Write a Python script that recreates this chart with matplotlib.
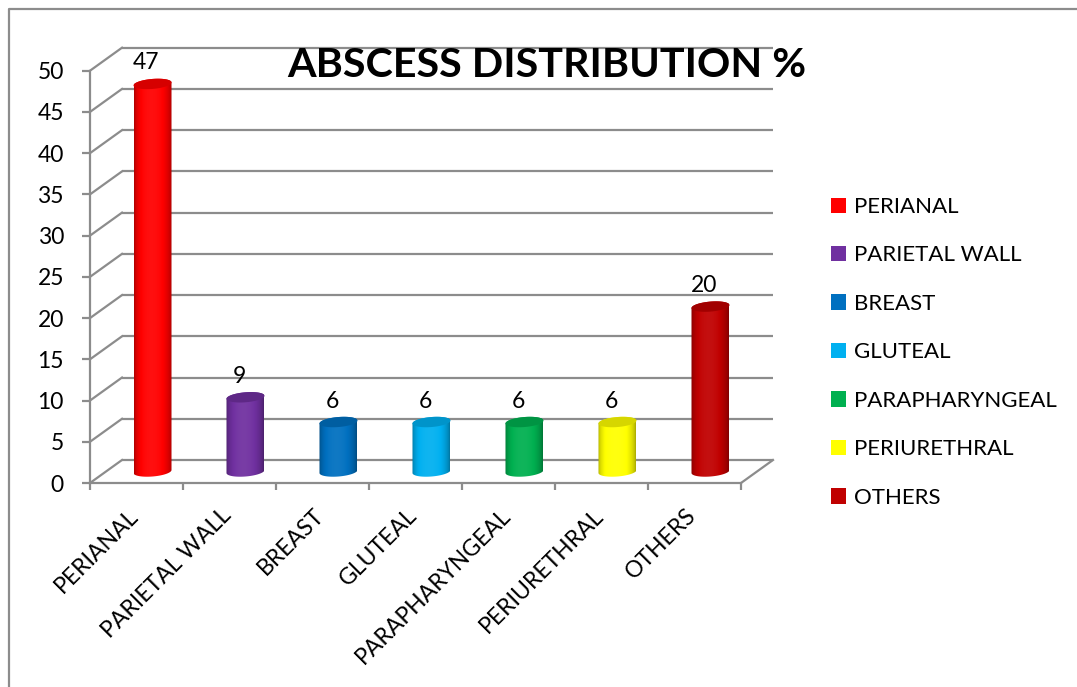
import numpy as np
import matplotlib
matplotlib.use("Agg")
import matplotlib.pyplot as plt
from matplotlib.patches import Polygon, Patch
from matplotlib.lines import Line2D
from matplotlib.colors import to_rgb

# ---- data -------------------------------------------------------------
categories = ["PERIANAL", "PARIETAL WALL", "BREAST", "GLUTEAL",
              "PARAPHARYNGEAL", "PERIURETHRAL", "OTHERS"]
values = [47, 9, 6, 6, 6, 6, 20]
colors = ["#FF0000", "#7030A0", "#0070C0", "#00B0F0",
          "#00B050", "#FFFF00", "#C00000"]
y_ticks = list(range(0, 51, 5))
title = "ABSCESS DISTRIBUTION %"

# ---- layout -----------------------------------------------------------
W, H, DPI = 1077, 687, 100
PT = 72.0 / DPI                      # points per pixel
FONT = "Lato"
GRID = "#8c8c8c"

fig = plt.figure(figsize=(W / DPI, H / DPI), dpi=DPI)
fig.patch.set_facecolor("white")

# front plane of the 3-D box in pixels
x0_px, x1_px = 90, 741
y0_px, y1_px = 483, 70.7
ax = fig.add_axes([x0_px / W, 1 - y0_px / H,
                   (x1_px - x0_px) / W, (y0_px - y1_px) / H])
n = len(categories)
ax.set_xlim(0, n)
ax.set_ylim(0, 50)
ax.patch.set_alpha(0)

px_x = (x1_px - x0_px) / n           # pixels per category
px_y = (y0_px - y1_px) / 50.0        # pixels per unit
DX = 32 / px_x                       # depth offset (data units)
DY = 23 / px_y

# back wall grid lines and left side wall diagonals
for v in y_ticks:
    ax.plot([DX, n + DX], [v + DY, v + DY], color=GRID, lw=1.6,
            clip_on=False, zorder=1, solid_capstyle="butt")
    ax.plot([0, DX], [v, v + DY], color=GRID, lw=1.6,
            clip_on=False, zorder=1)
# right floor edge
ax.plot([n, n + DX], [0, DY], color=GRID, lw=1.6, clip_on=False, zorder=1)

# axes spines / ticks
for s in ("top", "right"):
    ax.spines[s].set_visible(False)
for s in ("left", "bottom"):
    ax.spines[s].set_color(GRID)
    ax.spines[s].set_linewidth(1.6)
ax.set_yticks(y_ticks)
ax.set_yticklabels([str(t) for t in y_ticks], fontsize=16.5, family=FONT)
ax.tick_params(axis="y", direction="out", length=8 * PT, width=1.6,
               color=GRID, pad=13)
ax.set_xticks(np.arange(n + 1))
ax.set_xticklabels([])
ax.tick_params(axis="x", direction="out", length=7 * PT, width=1.6,
               color=GRID)

# category labels
for i, lab in enumerate(categories):
    ax.annotate(lab, xy=(i + 0.5, 0), xytext=(-9 * PT, -22 * PT),
                textcoords="offset points", rotation=45, ha="right",
                va="top", rotation_mode="anchor", fontsize=16.5,
                family=FONT, annotation_clip=False)

# ---- cylinders --------------------------------------------------------
r = 19 / px_x            # half width
b = 5 / px_y             # half height of the elliptical ends
k = 1.5 / px_y           # slight tilt of the ellipses
t = np.linspace(0, 2 * np.pi, 120)


def ellipse_pts(xc, yc, tt):
    return np.column_stack([xc + r * np.cos(tt),
                            yc + b * np.sin(tt) + k * np.cos(tt)])


def shade_row(base, m=256):
    u = np.linspace(0, 1, m)
    lum = 0.62 + 0.48 * np.sin(np.pi * u ** 0.9) ** 0.55
    rgb = np.array(to_rgb(base))
    out = np.empty((1, m, 3))
    for j, L in enumerate(lum):
        if L <= 1:
            out[0, j] = rgb * L
        else:
            out[0, j] = rgb + (1 - rgb) * (L - 1) * 0.6
    return np.clip(out, 0, 1)


base_y = DY / 2
for i, (v, c) in enumerate(zip(values, colors)):
    xc = i + 0.5 + DX / 2
    top = v + base_y
    bottom_half = ellipse_pts(xc, base_y, np.linspace(np.pi, 2 * np.pi, 60))
    top_half = ellipse_pts(xc, top, np.linspace(0, np.pi, 60))
    body = np.vstack([bottom_half, top_half])
    poly = Polygon(body, closed=True, facecolor="none", edgecolor="none",
                   clip_on=False, zorder=3)
    ax.add_patch(poly)
    im = ax.imshow(shade_row(c), extent=[xc - r, xc + r, base_y - 2 * b,
                                         top + 2 * b],
                   aspect="auto", interpolation="bilinear", zorder=3)
    im.set_clip_path(poly)
    cap_rgb = np.array(to_rgb(c)) * 0.84
    cap = Polygon(ellipse_pts(xc, top, t), closed=True, facecolor=cap_rgb,
                  edgecolor="none", clip_on=False, zorder=4)
    ax.add_patch(cap)
    ax.text(i + 0.5 + 0.3 * DX, top + 21 / px_y, str(v), ha="center",
            va="center", fontsize=16.5, family=FONT, zorder=5)

ax.set_xlim(0, n)
ax.set_ylim(0, 50)

# ---- title ------------------------------------------------------------
fig.text(547 / W, 1 - 77 / H, title, ha="center", va="baseline",
         fontsize=29.7, fontweight="bold", family=FONT, zorder=10)

# ---- legend -----------------------------------------------------------
handles = [Patch(facecolor=c, edgecolor="none") for c in colors]
fig.legend(handles, categories, loc="upper left",
           bbox_to_anchor=(831 / W, 1 - 197 / H), frameon=False,
           prop={"family": FONT, "size": 16}, handlelength=0.68,
           handleheight=0.68, handletextpad=0.35, labelspacing=1.28,
           borderpad=0, borderaxespad=0)

# ---- outer frame ------------------------------------------------------
fig.add_artist(Line2D([9 / W, 9 / W, 1.01], [-0.01, 1 - 9 / H, 1 - 9 / H],
                      transform=fig.transFigure, color=GRID, lw=1.6))

fig.savefig("out.png", dpi=DPI)
